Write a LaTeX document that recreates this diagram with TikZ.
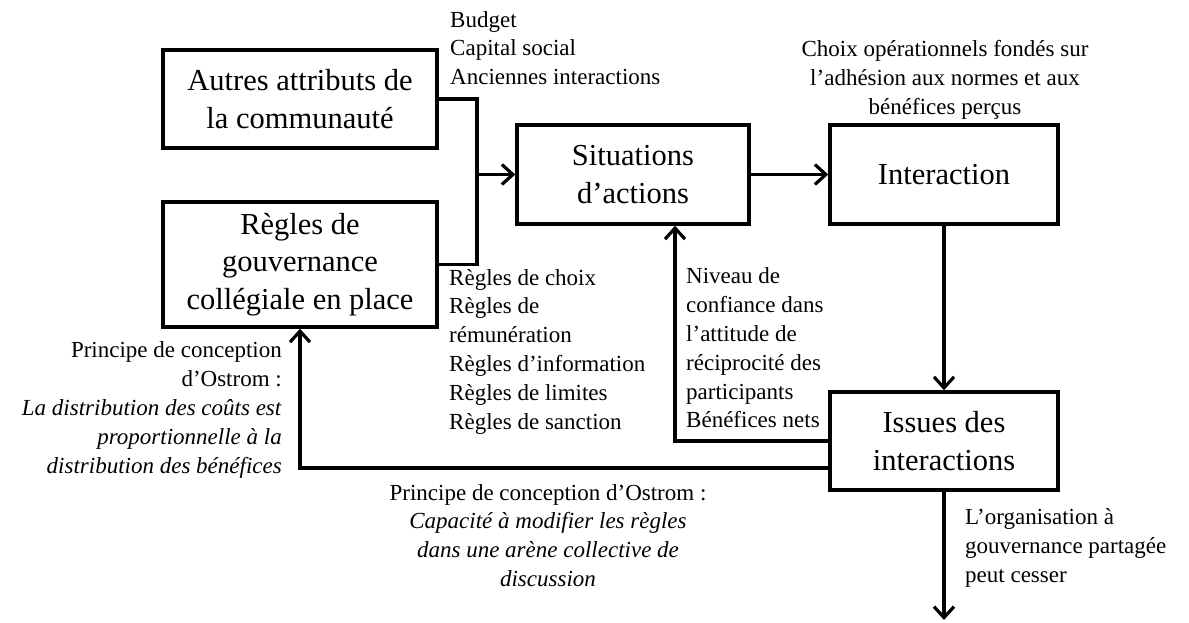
\documentclass[tikz,border=0pt]{standalone}
\usepackage{fontspec}
\setmainfont{Liberation Serif}
\usetikzlibrary{arrows.meta}

\tikzset{
  box/.style={draw, line width=3.5pt, rectangle, inner sep=0pt, align=center,
    font=\fontsize{30.5}{37.5}\selectfont},
  conn/.style={line width=3.2pt},
  arr/.style={conn, -{Straight Barb[length=11pt,width=20pt]}},
  lbl/.style={inner sep=0pt, font=\fontsize{23}{28.8}\selectfont}
}

\begin{document}
\begin{tikzpicture}[x=1pt, y=-1pt]
  \useasboundingbox (0,0) rectangle (1189,623);

  % Boxes
  \node[box, minimum width=274pt, minimum height=98pt] (autres) at (300,99)
    {Autres attributs de\\la communauté};
  \node[box, minimum width=274pt, minimum height=125pt] (regles) at (300,264.5)
    {Règles de\\gouvernance\\collégiale en place};
  \node[box, minimum width=232pt, minimum height=99pt] (situations) at (633,174.5)
    {Situations\\d’actions};
  \node[box, minimum width=228pt, minimum height=99pt] (interaction) at (944,174.5)
    {Interaction};
  \node[box, minimum width=228pt, minimum height=98pt] (issues) at (944,441)
    {Issues des\\interactions};

  % Connectors
  \coordinate (join) at (477,174.5);
  \coordinate (exit) at (944,620);
  \draw[conn] (autres.east) -| (join) |- (regles.east);
  \draw[arr] (join) -- (situations.west);
  \draw[arr] (situations.east) -- (interaction.west);
  \draw[arr] (interaction.south) -- (issues.north);
  \draw[arr] (issues.west) -| ([xshift=42pt]situations.south);
  \draw[arr] ([yshift=-27pt]issues.west) -| (regles.south);
  \draw[arr] (issues.south) -- (exit);

  % Labels
  \node[lbl, anchor=west, align=left] (budget) at (450,48)
    {Budget\\Capital social\\Anciennes interactions};
  \node[lbl, align=center] (choix) at (945,80)
    {Choix opérationnels fondés sur\\l’adhésion aux normes et aux\\bénéfices perçus};
  \node[lbl, anchor=west, align=left] (reglist) at (449,351.5)
    {Règles de choix\\Règles de\\rémunération\\Règles d’information\\Règles de limites\\Règles de sanction};
  \node[lbl, anchor=west, align=left] (niveau) at (686,348)
    {Niveau de\\confiance dans\\l’attitude de\\réciprocité des\\participants\\Bénéfices nets};
  \node[lbl, anchor=east, align=right] (principeA) at (282,410)
    {Principe de conception\\d’Ostrom :\\\textit{La distribution des coûts est}\\\textit{proportionnelle à la}\\\textit{distribution des bénéfices}};
  \node[lbl, align=center] (principeB) at (548,535.5)
    {Principe de conception d’Ostrom :\\\textit{Capacité à modifier les règles}\\\textit{dans une arène collective de}\\\textit{discussion}};
  \node[lbl, anchor=west, align=left] (fin) at (965,548)
    {L’organisation à\\gouvernance partagée\\peut cesser};
\end{tikzpicture}
\end{document}
